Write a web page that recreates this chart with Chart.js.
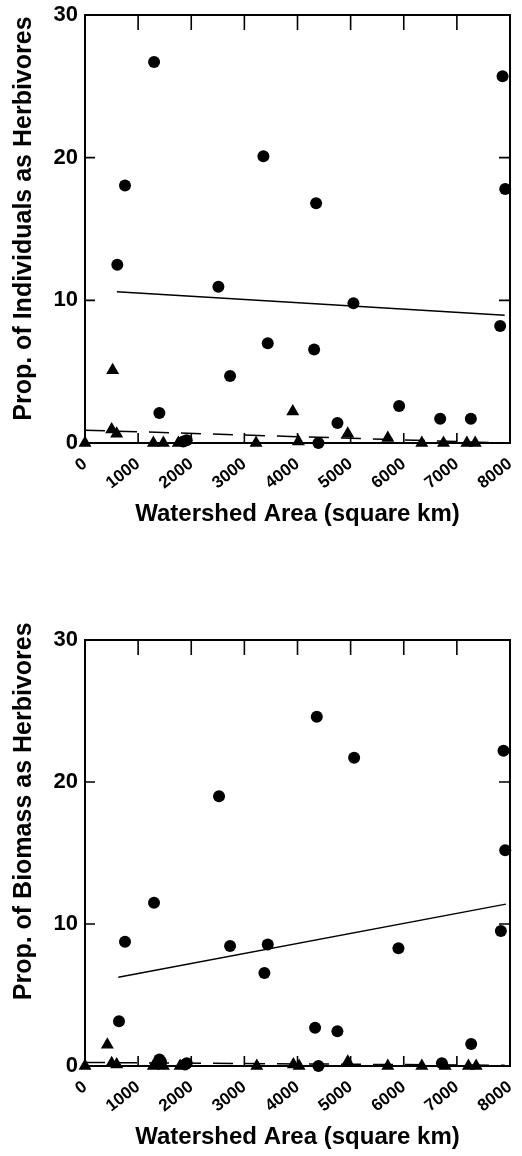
<!DOCTYPE html>
<html><head><meta charset="utf-8">
<script src="https://cdn.jsdelivr.net/npm/chart.js@4.4.1/dist/chart.umd.min.js"></script>
<style>
html,body{margin:0;padding:0;background:#fff;width:522px;height:1156px;overflow:hidden;}
.box{position:absolute;left:0;width:522px;}
</style></head><body>
<div class="box" style="top:0;height:533px"><canvas id="c1"></canvas></div>
<div class="box" style="top:590px;height:566px"><canvas id="c2"></canvas></div>
<script>
// ---------- data ----------
const xTickValues = [0, 1000, 2000, 3000, 4000, 5000, 6000, 7000, 8000];
const yTickValues = [0, 10, 20, 30];
const xTitle = 'Watershed Area (square km)';
const yTitleInd = 'Prop. of Individuals as Herbivores';
const yTitleBio = 'Prop. of Biomass as Herbivores';

// Individuals chart
const indCircleX = [1300, 753, 3358, 4350, 7860, 7910, 608, 2511, 5053, 7815, 3440, 4313, 2731, 1400, 5913, 4752, 6686, 7263, 4394, 1850, 1915];
const indCircleY = [26.7, 18.05, 20.1, 16.8, 25.7, 17.8, 12.5, 10.95, 9.8, 8.2, 7.0, 6.55, 4.7, 2.1, 2.6, 1.4, 1.7, 1.7, 0.0, 0.1, 0.2];
const indTriX = [520, 502, 596, 3911, 4946, 5700, 0, 1287, 1475, 1757, 3220, 4017, 6340, 6748, 7188, 7345];
const indTriY = [5.1, 0.95, 0.65, 2.2, 0.65, 0.35, 0, 0, 0, 0, 0, 0.1, 0, 0, 0, 0];
const indFitX = [600, 7900];
const indFitY = [10.6, 8.95];
const indDashX = [0, 7900];
const indDashY = [0.9, 0.0];

// Biomass chart
const bioCircleX = [4363, 5066, 7878, 2523, 7910, 1299, 753, 2731, 3440, 3377, 5900, 7828, 640, 4331, 4751, 7269, 1400, 1430, 4394, 6718, 1883, 1915];
const bioCircleY = [24.6, 21.7, 22.2, 19.0, 15.2, 11.5, 8.75, 8.45, 8.55, 6.55, 8.3, 9.5, 3.15, 2.7, 2.45, 1.55, 0.45, 0.3, 0.0, 0.2, 0.1, 0.2];
const bioTriX = [420, 0, 502, 596, 1287, 1475, 1790, 3234, 3923, 4030, 4946, 5700, 6340, 6780, 7218, 7363];
const bioTriY = [1.5, 0, 0.2, 0.1, 0, 0, 0, 0, 0.1, 0, 0.3, 0, 0, 0, 0, 0];
const bioFitX = [627, 7923];
const bioFitY = [6.25, 11.4];
const bioDashX = [0, 7900];
const bioDashY = [0.25, 0.05];

// ---------- helpers ----------
const FONT = '"Liberation Sans", Arial, Helvetica, sans-serif';
const pts = (xs, ys) => xs.map((x, i) => ({x, y: ys[i]}));

const framePlugin = {
  id: 'frame',
  beforeDatasetsDraw(chart) {
    const {ctx, chartArea: a, scales: {x, y}} = chart;
    ctx.save();
    ctx.strokeStyle = '#000';
    ctx.lineWidth = 2;
    ctx.strokeRect(a.left, a.top, a.right - a.left, a.bottom - a.top);
    ctx.lineWidth = 1.6;
    ctx.beginPath();
    x.ticks.forEach(t => {
      if (t.value <= x.min || t.value >= x.max) return;
      const px = x.getPixelForValue(t.value);
      ctx.moveTo(px, a.top); ctx.lineTo(px, a.top + 15);
      ctx.moveTo(px, a.bottom); ctx.lineTo(px, a.bottom - 10);
    });
    y.ticks.forEach(t => {
      if (t.value <= y.min || t.value >= y.max) return;
      const py = y.getPixelForValue(t.value);
      ctx.moveTo(a.left, py); ctx.lineTo(a.left + 10, py);
      ctx.moveTo(a.right, py); ctx.lineTo(a.right - 11, py);
    });
    ctx.stroke();
    ctx.restore();
  }
};

function makeChart(id, cfg) {
  return new Chart(document.getElementById(id), {
    type: 'scatter',
    data: {
      datasets: [
        {data: pts(cfg.cx, cfg.cy), pointStyle: 'circle', pointRadius: 6, backgroundColor: '#000', borderColor: '#000', borderWidth: 0, clip: false, order: 1},
        {data: pts(cfg.tx, cfg.ty), pointStyle: 'triangle', pointRadius: 7.5, backgroundColor: '#000', borderColor: '#000', borderWidth: 0, clip: false, order: 1},
        {type: 'line', data: pts(cfg.fx, cfg.fy), borderColor: '#000', borderWidth: 1.5, pointRadius: 0, fill: false, order: 2},
        {type: 'line', data: pts(cfg.dx, cfg.dy), borderColor: '#000', borderWidth: 1.5, borderDash: [20, 12], pointRadius: 0, fill: false, order: 2}
      ]
    },
    options: {
      responsive: true,
      maintainAspectRatio: false,
      animation: false,
      events: [],
      layout: {padding: {top: cfg.padTop, right: 12, left: 0, bottom: 0}},
      plugins: {legend: {display: false}, tooltip: {enabled: false}},
      scales: {
        x: {
          type: 'linear', min: 0, max: 8000,
          afterBuildTicks: s => { s.ticks = xTickValues.map(v => ({value: v})); },
          afterFit: s => { s.height = 90; s.paddingLeft = 0; s.paddingRight = 0; },
          grid: {display: false, drawTicks: false},
          border: {display: false},
          ticks: {
            autoSkip: false, minRotation: 38, maxRotation: 38, padding: 11,
            color: '#000', font: {family: FONT, size: 17, weight: 'bold'},
            callback: v => String(v)
          },
          title: {display: true, text: xTitle, color: '#000', font: {family: FONT, size: 24, weight: 'bold'}, padding: {top: 0, bottom: 4}}
        },
        y: {
          type: 'linear', min: 0, max: 30,
          afterBuildTicks: s => { s.ticks = yTickValues.map(v => ({value: v})); },
          afterFit: s => { s.width = 85; s.paddingTop = 0; s.paddingBottom = 0; },
          grid: {display: false, drawTicks: false},
          border: {display: false},
          ticks: {padding: 7, color: '#000', font: {family: FONT, size: 22, weight: 'bold'}, callback: v => String(v)},
          title: {display: true, text: cfg.yTitle, color: '#000', font: {family: FONT, size: 25, weight: 'bold'}, padding: {top: 9, bottom: 0}}
        }
      }
    },
    plugins: [framePlugin]
  });
}

makeChart('c1', {
  cx: indCircleX, cy: indCircleY, tx: indTriX, ty: indTriY,
  fx: indFitX, fy: indFitY, dx: indDashX, dy: indDashY,
  padTop: 15, yTitle: '   ' + yTitleInd
});
makeChart('c2', {
  cx: bioCircleX, cy: bioCircleY, tx: bioTriX, ty: bioTriY,
  fx: bioFitX, fy: bioFitY, dx: bioDashX, dy: bioDashY,
  padTop: 50, yTitle: '            ' + yTitleBio
});
</script>
</body></html>
